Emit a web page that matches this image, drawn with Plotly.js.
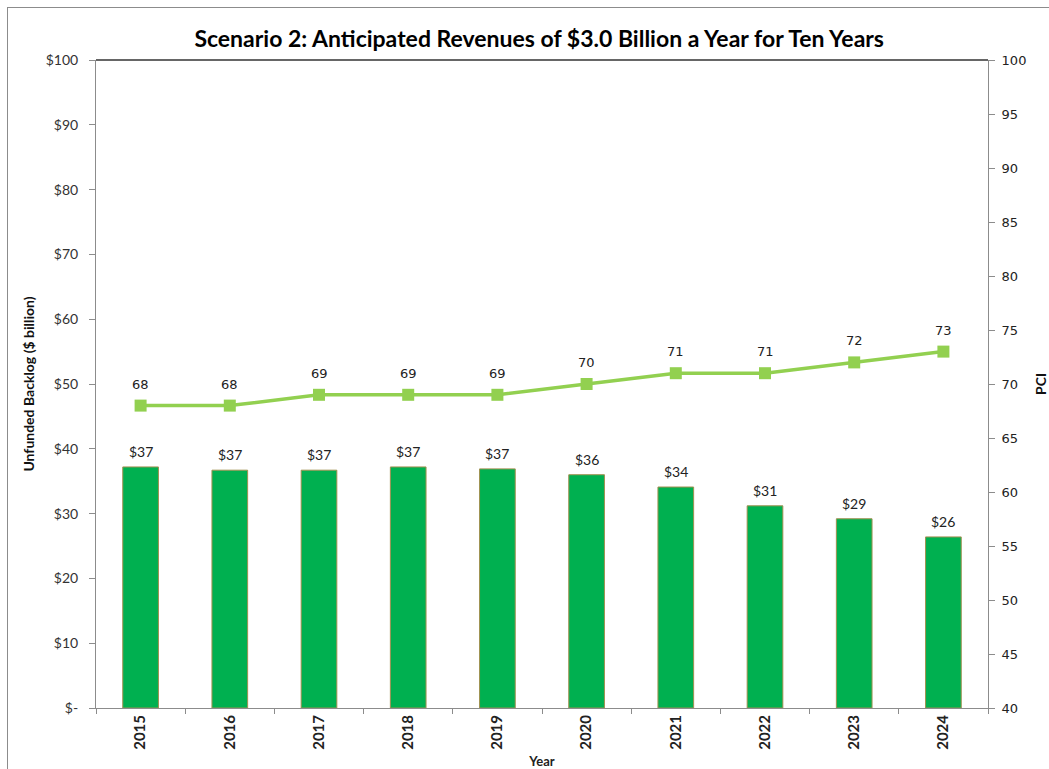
<!DOCTYPE html>
<html>
<head>
<meta charset="utf-8">
<script src="https://cdn.plot.ly/plotly-3.0.1.min.js"></script>
<style>
html,body{margin:0;padding:0;background:#fff;}
#chart{width:1049px;height:769px;position:absolute;left:0;top:0;}
#frame{position:absolute;left:7px;top:7px;width:1100px;height:800px;border-left:1px solid #8c8c8c;border-top:1px solid #8c8c8c;pointer-events:none;}
</style>
</head>
<body>
<div id="chart"></div>
<div id="frame"></div>
<script>
const years = ['2015','2016','2017','2018','2019','2020','2021','2022','2023','2024'];
const backlog = [37.2, 36.7, 36.7, 37.2, 36.9, 36.0, 34.1, 31.2, 29.2, 26.4];
const pci = [68, 68, 69, 69, 69, 70, 71, 71, 72, 73];
const leftTickVals = [0,10,20,30,40,50,60,70,80,90,100];
const leftTickText = ['$-','$10','$20','$30','$40','$50','$60','$70','$80','$90','$100'];

const bars = {
  type:'bar', x: years, y: backlog, yaxis:'y', width:0.4,
  marker:{color:'#00B050', line:{color:'#A09050', width:1}},
  hoverinfo:'skip', showlegend:false
};
const line = {
  type:'scatter', mode:'lines+markers', x: years, y: pci, yaxis:'y2',
  line:{color:'#92D050', width:3.5},
  marker:{symbol:'square', size:12, color:'#92D050'},
  hoverinfo:'skip', showlegend:false, cliponaxis:false
};

const annotations = [];
years.forEach((yr, i) => {
  annotations.push({x: i, y: backlog[i], xref:'x', yref:'y', text:'$' + Math.round(backlog[i]),
    showarrow:false, yanchor:'bottom', yshift:5,
    font:{family:'Lato, Liberation Sans, sans-serif', size:14, color:'#222'}});
  annotations.push({x: i, y: pci[i], xref:'x', yref:'y2', text:String(pci[i]),
    showarrow:false, yanchor:'bottom', yshift:12,
    font:{family:'DejaVu Sans, sans-serif', size:13, color:'#222'}});
});

const layout = {
  width:1049, height:769,
  margin:{l:96, r:61, t:60, b:61},
  paper_bgcolor:'#fff', plot_bgcolor:'#fff',
  title:{text:'<b>Scenario 2: Anticipated Revenues of $3.0 Billion a Year for Ten Years</b>',
    font:{family:'Lato, sans-serif', size:23, color:'#000'}, x:0.514, xanchor:'center', y:0.95, yanchor:'middle'},
  xaxis:{type:'category', range:[-0.5, 9.5], showline:true, linecolor:'#8c8c8c', linewidth:1,
    ticks:'outside', ticklen:5, tickcolor:'#8c8c8c', tickson:'boundaries',
    tickangle:-90, tickfont:{family:'Lato, sans-serif', size:15, color:'#222', weight:'bold'},
    showgrid:false, zeroline:false,
    title:{text:'<b>Year</b>', font:{family:'Lato, sans-serif', size:13, color:'#222'}, standoff:8}},
  yaxis:{range:[0,100], tickvals:leftTickVals, ticktext:leftTickText,
    showline:true, linecolor:'#8c8c8c', linewidth:1, ticks:'outside', ticklen:6, tickcolor:'#8c8c8c',
    ticklabelstandoff:8,
    tickfont:{family:'Lato, sans-serif', size:14, color:'#333'}, showgrid:false, zeroline:false,
    title:{text:'<b>Unfunded Backlog ($ billion)</b>', font:{family:'Lato, sans-serif', size:14, color:'#111'}, standoff:7}},
  yaxis2:{range:[40,100], dtick:5, overlaying:'y', side:'right',
    showline:true, linecolor:'#8c8c8c', linewidth:1, ticks:'outside', ticklen:6, tickcolor:'#8c8c8c',
    ticklabelstandoff:4,
    tickfont:{family:'DejaVu Sans, sans-serif', size:13, color:'#222'}, showgrid:false, zeroline:false,
    title:{text:'<b>PCI</b>', font:{family:'Lato, sans-serif', size:14, color:'#111'}, standoff:12}},
  annotations: annotations,
  shapes:[{type:'line', xref:'paper', yref:'paper', x0:0, x1:1, y0:1, y1:1, line:{color:'#333', width:1.5}}]
};

Plotly.newPlot('chart', [bars, line], layout, {displayModeBar:false, staticPlot:true});
</script>
</body>
</html>
